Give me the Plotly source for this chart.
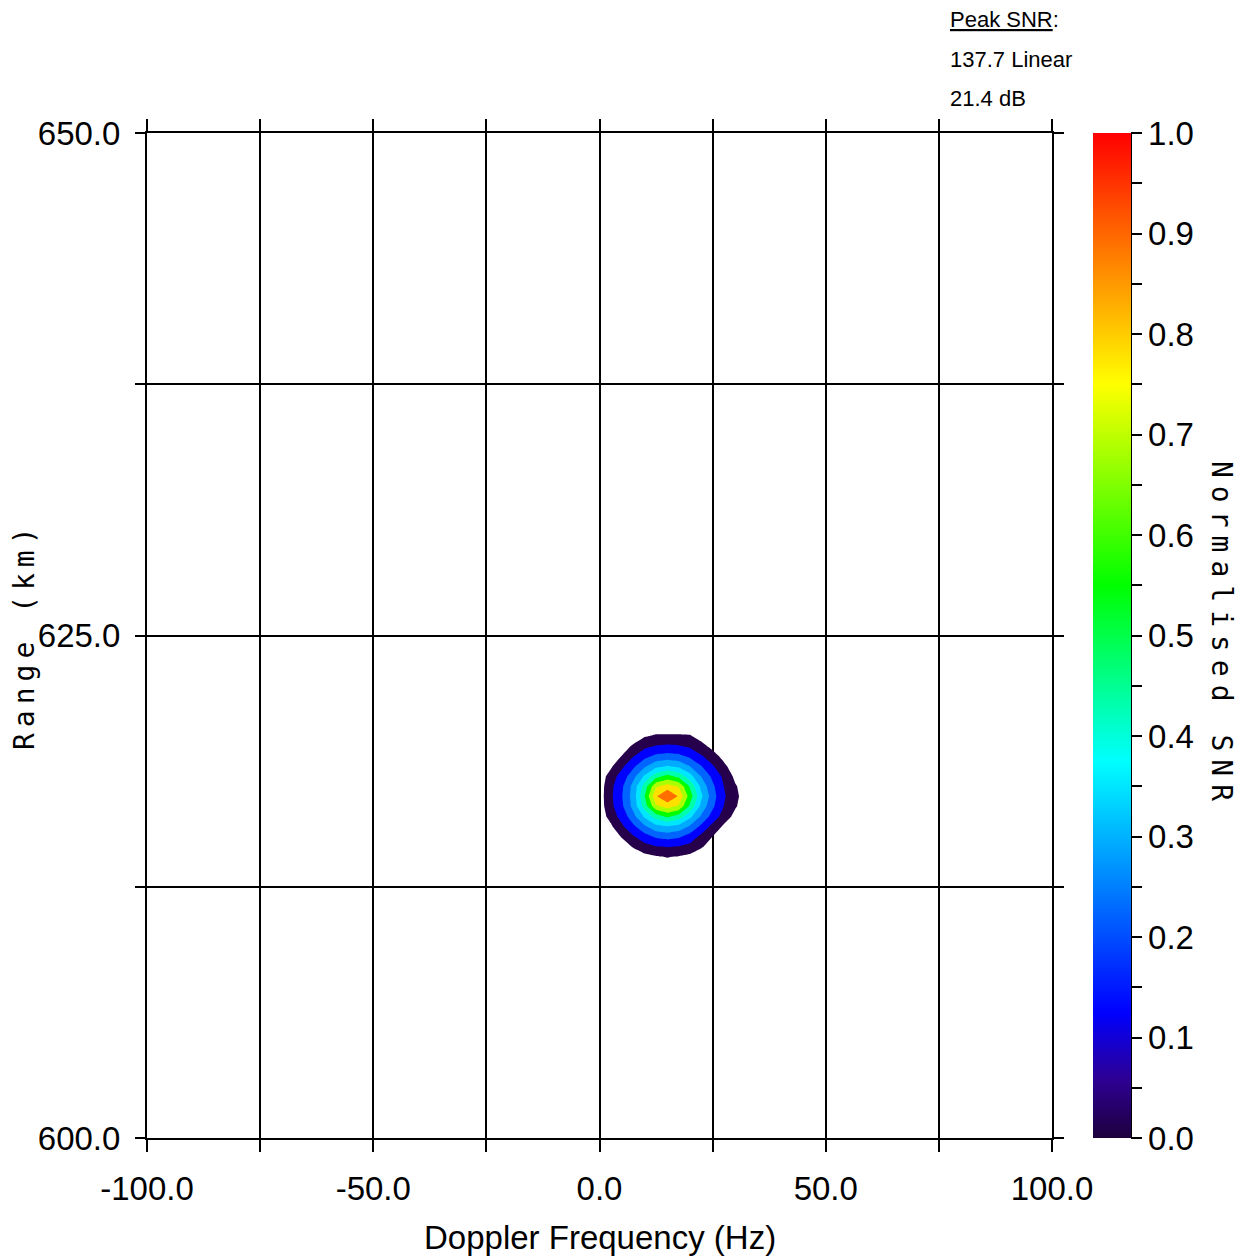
import plotly.graph_objects as go

# ---------------- data ----------------
doppler_hz = [0.0, 2.5, 5.0, 7.5, 10.0, 12.5, 15.0, 17.5, 20.0, 22.5, 25.0, 27.5, 30.0, 32.5]
range_km = [613.5, 614.0, 614.5, 615.0, 615.5, 616.0, 616.5, 617.0, 617.5, 618.0, 618.5, 619.0, 619.5, 620.0, 620.5]

# normalised SNR, one row per range gate (bottom to top), one column per Doppler bin
snr_norm = [
    [0, 0, 0, 0, 0, 0, 0, 0, 0, 0, 0, 0, 0, 0],
    [0, 0, 0, 0, 0.014, 0.026, 0.034, 0.027, 0.016, 0, 0, 0, 0, 0],
    [0, 0, 0.008, 0.035, 0.068, 0.096, 0.105, 0.097, 0.070, 0.036, 0.008, 0, 0, 0],
    [0, 0, 0.035, 0.092, 0.160, 0.220, 0.240, 0.218, 0.160, 0.075, 0.030, 0.006, 0, 0],
    [0, 0.020, 0.084, 0.180, 0.285, 0.370, 0.400, 0.370, 0.285, 0.175, 0.070, 0.020, 0, 0],
    [0, 0.050, 0.138, 0.270, 0.420, 0.550, 0.620, 0.560, 0.430, 0.285, 0.160, 0.060, 0.014, 0],
    [0, 0.072, 0.185, 0.335, 0.550, 0.780, 0.840, 0.785, 0.580, 0.370, 0.220, 0.099, 0.036, 0],
    [0, 0.079, 0.198, 0.345, 0.600, 0.890, 1.000, 0.890, 0.650, 0.420, 0.245, 0.110, 0.045, 0],
    [0, 0.073, 0.186, 0.336, 0.550, 0.785, 0.845, 0.790, 0.585, 0.372, 0.222, 0.100, 0.036, 0],
    [0, 0.053, 0.141, 0.270, 0.420, 0.560, 0.630, 0.570, 0.440, 0.295, 0.176, 0.077, 0.016, 0],
    [0, 0.020, 0.082, 0.180, 0.285, 0.372, 0.405, 0.378, 0.300, 0.205, 0.108, 0.042, 0, 0],
    [0, 0, 0.032, 0.095, 0.168, 0.222, 0.240, 0.225, 0.178, 0.108, 0.052, 0.012, 0, 0],
    [0, 0, 0.006, 0.038, 0.076, 0.104, 0.112, 0.106, 0.082, 0.046, 0.014, 0, 0, 0],
    [0, 0, 0, 0, 0.025, 0.036, 0.036, 0.036, 0.034, 0.010, 0, 0, 0, 0],
    [0, 0, 0, 0, 0, 0, 0, 0, 0, 0, 0, 0, 0, 0],
]

contour_levels = [0.03, 0.1, 0.2, 0.3, 0.4, 0.5, 0.6, 0.7, 0.8, 0.9]

x_tick_vals = [-100, -50, 0, 50, 100]
x_tick_text = ["-100.0", "-50.0", "0.0", "50.0", "100.0"]
y_tick_vals = [600, 625, 650]
y_tick_text = ["600.0", "625.0", "650.0"]
cbar_tick_vals = [0.0, 0.05, 0.1, 0.15, 0.2, 0.25, 0.3, 0.35, 0.4, 0.45, 0.5,
                  0.55, 0.6, 0.65, 0.7, 0.75, 0.8, 0.85, 0.9, 0.95, 1.0]
cbar_tick_text = ["0.0", "", "0.1", "", "0.2", "", "0.3", "", "0.4", "", "0.5",
                  "", "0.6", "", "0.7", "", "0.8", "", "0.9", "", "1.0"]

peak_snr_linear = 137.7
peak_snr_db = 21.4

# ---------------- style ----------------
scale_stops = [
    (0.0, (30, 0, 60)),
    (0.06, (45, 0, 150)),
    (0.125, (0, 0, 255)),
    (0.375, (0, 255, 255)),
    (0.55, (0, 255, 0)),
    (0.75, (255, 255, 0)),
    (1.0, (255, 0, 0)),
]
colorscale = [[p, "rgb(%d,%d,%d)" % c] for p, c in scale_stops]

band_colors = [
    "rgb(38,0,74)", "rgb(0,0,255)", "rgb(0,100,255)", "rgb(0,170,255)", "rgb(0,230,255)",
    "rgb(0,255,170)", "rgb(0,255,0)", "rgb(170,255,0)", "rgb(255,225,0)", "rgb(255,110,0)",
]

FONT = "Liberation Sans, Arial, sans-serif"
TITLE_FONT = "DejaVu Sans Mono, monospace"

W, H = 1250, 1259
ML, MR, MT, MB = 147, 198, 133, 121
PW = W - ML - MR
PH = H - MT - MB


def px_x(px):
    return (px - ML) / PW


def px_y(py):
    return (H - MB - py) / PH


fig = go.Figure()

# each band: shade the region where SNR exceeds the level ("<" keeps lower values unshaded)
for lv, col in zip(contour_levels, band_colors):
    fig.add_trace(go.Contour(
        x=doppler_hz, y=range_km, z=snr_norm,
        contours=dict(type="constraint", operation="<", value=lv),
        fillcolor=col,
        line=dict(width=0, smoothing=0),
        showscale=False, hoverinfo="skip",
    ))

# colour bar carrier
fig.add_trace(go.Scatter(
    x=[-200], y=[500], mode="markers", hoverinfo="skip",
    marker=dict(size=1, color=[0.5], cmin=0, cmax=1, colorscale=colorscale,
                showscale=True,
                colorbar=dict(
                    thickness=38, thicknessmode="pixels", len=1, lenmode="fraction",
                    x=px_x(1093), xanchor="left", y=0.5, yanchor="middle",
                    xpad=0, ypad=0, outlinewidth=0,
                    tickmode="array", tickvals=cbar_tick_vals, ticktext=cbar_tick_text,
                    ticks="outside", ticklen=11, tickwidth=2, tickcolor="black",
                    tickfont=dict(family=FONT, size=33, color="black"),
                )),
))

axis_common = dict(
    showline=True, linewidth=2, linecolor="black", mirror="ticks",
    ticks="outside", tickcolor="black", showgrid=True, gridcolor="black",
    zeroline=False, tickfont=dict(family=FONT, size=33, color="black"),
    tickmode="array",
)

fig.update_xaxes(
    range=[-100, 100], tickvals=x_tick_vals, ticktext=x_tick_text,
    ticklen=12, tickwidth=1.5, gridwidth=1.5, ticklabelstandoff=8,
    minor=dict(tickmode="linear", tick0=-100, dtick=25, ticks="outside", ticklen=12,
               tickwidth=1.5, tickcolor="black", showgrid=True, gridcolor="black", gridwidth=1.5),
    **axis_common,
)
fig.update_yaxes(
    range=[600, 650], tickvals=y_tick_vals, ticktext=y_tick_text,
    ticklen=10, tickwidth=2, gridwidth=2, ticklabelstandoff=8,
    minor=dict(tickmode="linear", tick0=600, dtick=12.5, ticks="outside", ticklen=10,
               tickwidth=2, tickcolor="black", showgrid=True, gridcolor="black", gridwidth=2),
    **axis_common,
)

annotations = [
    dict(text="Doppler Frequency (Hz)", x=0.5, y=px_y(1237), xanchor="center", yanchor="middle",
         font=dict(family=FONT, size=33, color="black")),
    dict(text='<span style="letter-spacing:6px">Range (km)</span>', x=px_x(24), y=px_y(636),
         xanchor="center", yanchor="middle",
         textangle=-90, font=dict(family=TITLE_FONT, size=28, color="black")),
    dict(text='<span style="letter-spacing:8px">Normalised SNR</span>', x=px_x(1222), y=px_y(635),
         xanchor="center", yanchor="middle",
         textangle=90, font=dict(family=TITLE_FONT, size=28, color="black")),
    dict(text="<u>Peak SNR</u>:", x=px_x(948), y=px_y(20), xanchor="left", yanchor="middle",
         font=dict(family=FONT, size=22, color="black")),
    dict(text="%.1f Linear" % peak_snr_linear, x=px_x(948), y=px_y(60), xanchor="left",
         yanchor="middle", font=dict(family=FONT, size=22, color="black")),
    dict(text="%.1f dB" % peak_snr_db, x=px_x(948), y=px_y(98), xanchor="left",
         yanchor="middle", font=dict(family=FONT, size=22, color="black")),
]
for a in annotations:
    a.update(xref="paper", yref="paper", showarrow=False)

fig.update_layout(
    width=W, height=H, margin=dict(l=ML, r=MR, t=MT, b=MB, pad=0),
    paper_bgcolor="white", plot_bgcolor="white", showlegend=False,
    font=dict(family=FONT, color="black"),
    annotations=annotations,
    shapes=[dict(type="line", xref="paper", yref="paper", x0=px_x(1131), x1=px_x(1131),
                 y0=0, y1=1, line=dict(color="black", width=2))],
)

fig.write_html("out.html")
